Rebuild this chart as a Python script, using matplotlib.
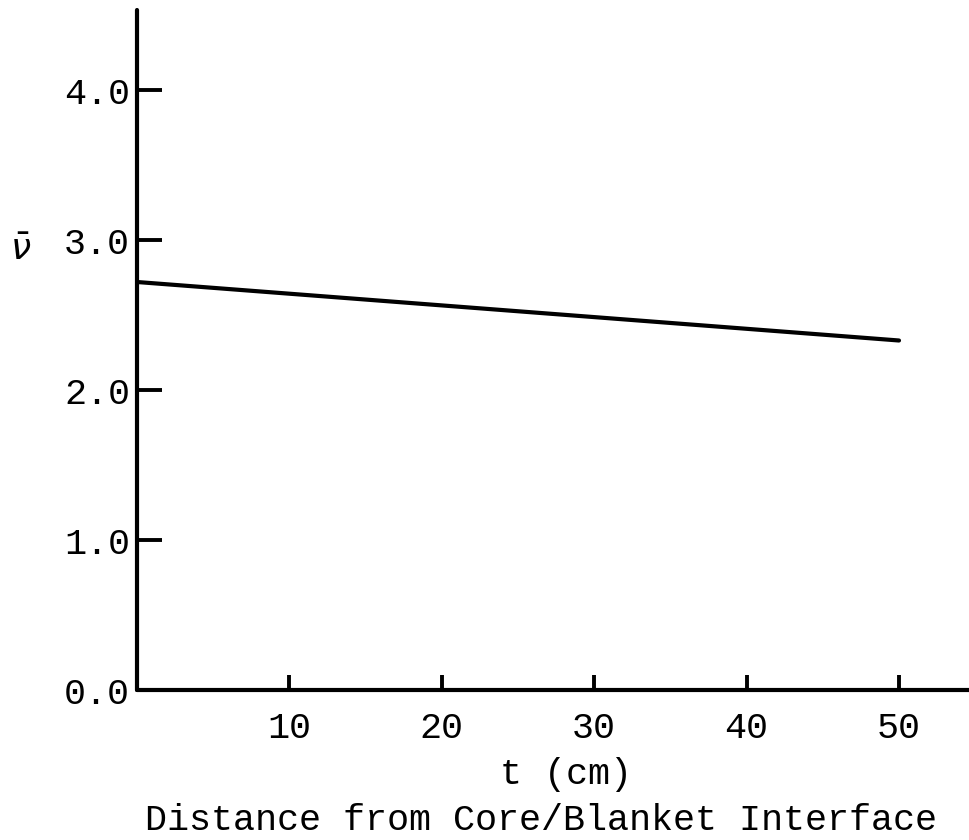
import matplotlib
matplotlib.use("Agg")
import matplotlib.pyplot as plt

# data
distance_cm = [0, 50]
nu_bar = [2.72, 2.33]
x_ticks = [10, 20, 30, 40, 50]
y_ticks = [0.0, 1.0, 2.0, 3.0, 4.0]
y_tick_labels = ["0.0", "1.0", "2.0", "3.0", "4.0"]

W, H = 969, 840
fig = plt.figure(figsize=(W / 100, H / 100), dpi=100)
font = "Liberation Mono"
fs = 26.5

ax = fig.add_axes([137 / W, 1 - 690 / H, 1 - 137 / W, (690 - 10) / H])
ax.plot(distance_cm, nu_bar, color="black", lw=3.0, solid_capstyle="round")

ax.set_xlim(0, (W - 137) / 15.24)
ax.set_ylim(0, (690 - 10) / 150)

for side in ("top", "right"):
    ax.spines[side].set_visible(False)
for side in ("left", "bottom"):
    ax.spines[side].set_linewidth(3.0)
    ax.spines[side].set_capstyle("round")

ax.set_xticks(x_ticks)
ax.set_xticklabels([str(v) for v in x_ticks], fontfamily=font, fontsize=fs)
ax.set_yticks(y_ticks)
ax.set_yticklabels(y_tick_labels, fontfamily=font, fontsize=fs)
ax.tick_params(axis="x", direction="in", length=11, width=2.8, pad=15, colors="black")
ax.tick_params(axis="y", direction="in", length=18, width=2.8, pad=5, colors="black")

fig.text(566 / W, 1 - 775 / H, "t (cm)", fontfamily=font, fontsize=fs,
         ha="center", va="center")
fig.text(541 / W, 1 - 820 / H, "Distance from Core/Blanket Interface",
         fontfamily=font, fontsize=fs, ha="center", va="center")
fig.text(21 / W, 1 - 250 / H, r"$\bar{\nu}$", fontsize=26, ha="center", va="center")

fig.savefig("out.png", dpi=100)
